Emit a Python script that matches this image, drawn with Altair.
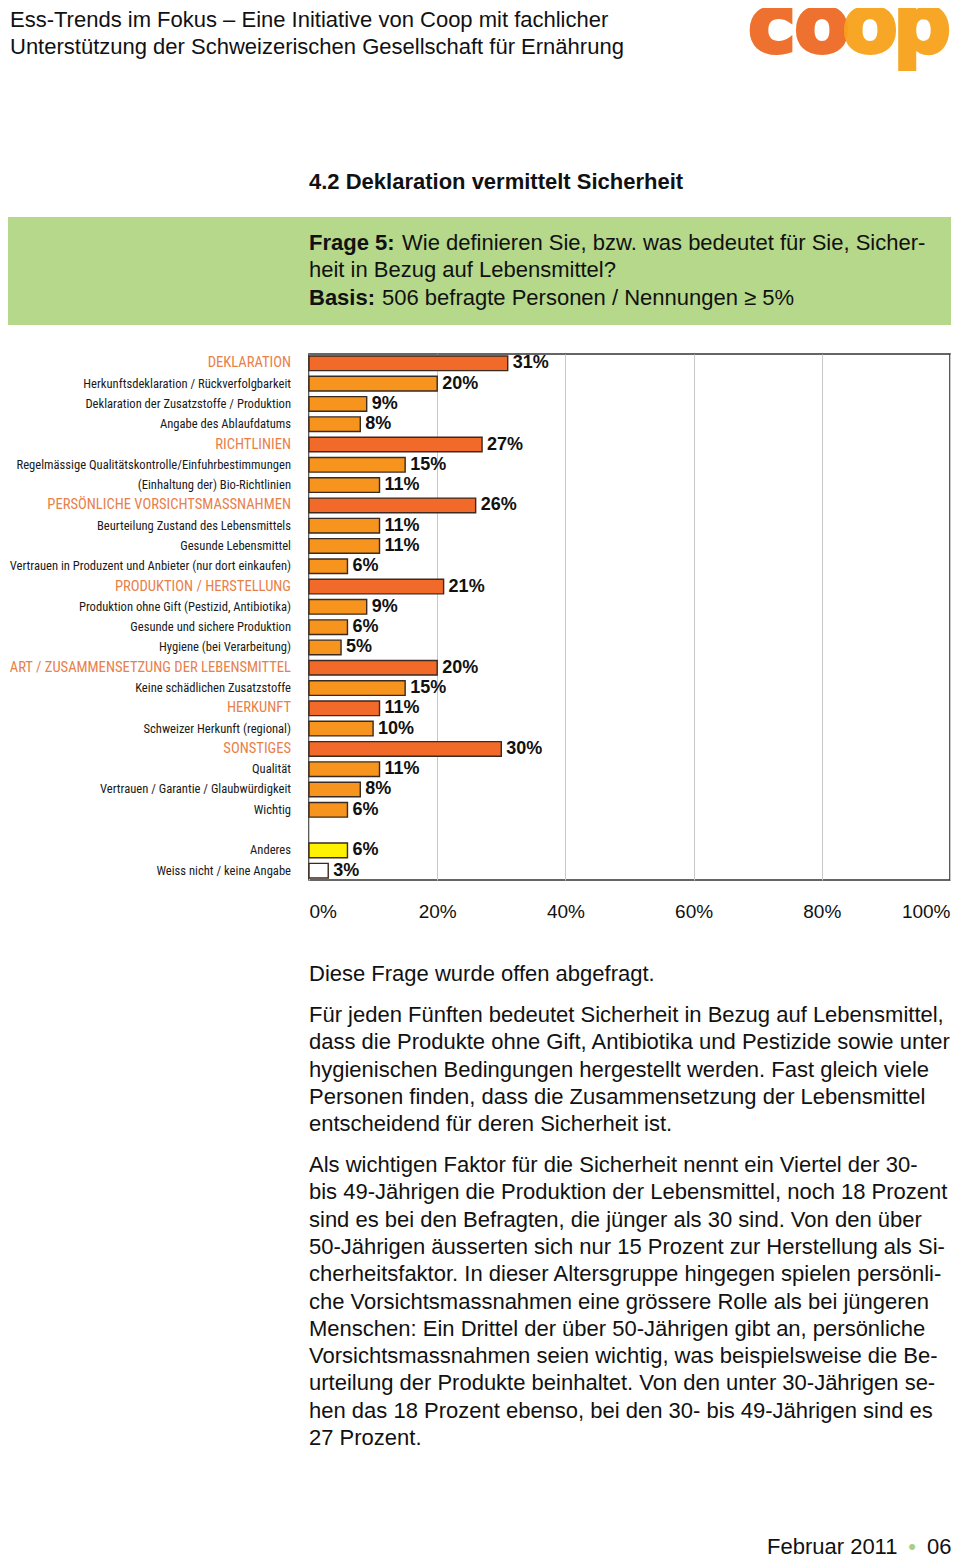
import altair as alt
import pandas as pd

labels = [
    "DEKLARATION",
    "Herkunftsdeklaration / Rückverfolgbarkeit",
    "Deklaration der Zusatzstoffe / Produktion",
    "Angabe des Ablaufdatums",
    "RICHTLINIEN",
    "Regelmässige Qualitätskontrolle/Einfuhrbestimmungen",
    "(Einhaltung der) Bio-Richtlinien",
    "PERSÖNLICHE VORSICHTSMASSNAHMEN",
    "Beurteilung Zustand des Lebensmittels",
    "Gesunde Lebensmittel",
    "Vertrauen in Produzent und Anbieter (nur dort einkaufen)",
    "PRODUKTION / HERSTELLUNG",
    "Produktion ohne Gift (Pestizid, Antibiotika)",
    "Gesunde und sichere Produktion",
    "Hygiene (bei Verarbeitung)",
    "ART / ZUSAMMENSETZUNG DER LEBENSMITTEL",
    "Keine schädlichen Zusatzstoffe",
    "HERKUNFT",
    "Schweizer Herkunft (regional)",
    "SONSTIGES",
    "Qualität",
    "Vertrauen / Garantie / Glaubwürdigkeit",
    "Wichtig",
    "Anderes",
    "Weiss nicht / keine Angabe",
]
values = [31, 20, 9, 8, 27, 15, 11, 26, 11, 11, 6, 21, 9, 6, 5, 20, 15, 11, 10, 30, 11, 8, 6, 6, 3]
kinds = ["cat", "item", "item", "item", "cat", "item", "item", "cat", "item", "item", "item",
         "cat", "item", "item", "item", "cat", "item", "cat", "item", "cat", "item", "item", "item",
         "other", "none"]
# row order (blank gap before "Anderes")
row_order = labels[:23] + [" "] + labels[23:]
x_ticks = [0, 20, 40, 60, 80, 100]

header_lines = [
    "Ess-Trends im Fokus – Eine Initiative von Coop mit fachlicher",
    "Unterstützung der Schweizerischen Gesellschaft für Ernährung",
]
section_title = "4.2 Deklaration vermittelt Sicherheit"
intro_line = "Diese Frage wurde offen abgefragt."
para2 = [
    "Für jeden Fünften bedeutet Sicherheit in Bezug auf Lebensmittel,",
    "dass die Produkte ohne Gift, Antibiotika und Pestizide sowie unter",
    "hygienischen Bedingungen hergestellt werden. Fast gleich viele",
    "Personen finden, dass die Zusammensetzung der Lebensmittel",
    "entscheidend für deren Sicherheit ist.",
]
para3 = [
    "Als wichtigen Faktor für die Sicherheit nennt ein Viertel der 30-",
    "bis 49-Jährigen die Produktion der Lebensmittel, noch 18 Prozent",
    "sind es bei den Befragten, die jünger als 30 sind. Von den über",
    "50-Jährigen äusserten sich nur 15 Prozent zur Herstellung als Si-",
    "cherheitsfaktor. In dieser Altersgruppe hingegen spielen persönli-",
    "che Vorsichtsmassnahmen eine grössere Rolle als bei jüngeren",
    "Menschen: Ein Drittel der über 50-Jährigen gibt an, persönliche",
    "Vorsichtsmassnahmen seien wichtig, was beispielsweise die Be-",
    "urteilung der Produkte beinhaltet. Von den unter 30-Jährigen se-",
    "hen das 18 Prozent ebenso, bei den 30- bis 49-Jährigen sind es",
    "27 Prozent.",
]

df = pd.DataFrame({"label": labels, "value": values, "kind": kinds})

FONT = "Liberation Sans, Arial, Helvetica, sans-serif"
NARROW = "Roboto Condensed, DejaVu Sans Condensed, sans-serif"
one = alt.Data(values=[{}])
base = alt.Chart(df)

bars = base.mark_bar(stroke="#3a2a1f", strokeWidth=1.4).encode(
    x=alt.X("value:Q", scale=alt.Scale(domain=[0, 100]),
            axis=alt.Axis(values=x_ticks, labelExpr="datum.value + '%'", title=None,
                          ticks=False, tickSize=0, domain=False, grid=True,
                          gridColor="#c8c8c8", gridWidth=1, labelFlush=True,
                          labelFont=FONT, labelFontSize=19, labelColor="#111",
                          labelPadding=22)),
    y=alt.Y("label:N", scale=alt.Scale(domain=row_order, paddingInner=0.28, paddingOuter=0.1),
            axis=None, sort=None),
    color=alt.Color("kind:N", scale=alt.Scale(domain=["cat", "item", "other", "none"],
                                              range=["#F26A2A", "#F7941D", "#FFF200", "#FFFFFF"]),
                    legend=None),
)
vals = base.transform_calculate(pct="datum.value + '%'").mark_text(
    align="left", baseline="middle", dx=5, font=FONT, fontWeight="bold", fontSize=18, color="#111"
).encode(x="value:Q", y=alt.Y("label:N", sort=None), text="pct:N")
item_labels = base.transform_filter("datum.kind != 'cat'").mark_text(
    align="right", baseline="middle", font=NARROW, fontSize=12.6, color="#1a1a1a"
).encode(x=alt.value(-18), y=alt.Y("label:N", sort=None), text="label:N")
cat_labels = base.transform_filter("datum.kind == 'cat'").mark_text(
    align="right", baseline="middle", font=NARROW, fontSize=14.6, color="#E8804A"
).encode(x=alt.value(-18), y=alt.Y("label:N", sort=None), text="label:N")

OX, OY = 309, 354  # page position of the plot origin


def txt(s, px, py, size=22, weight="normal", color="#111", align="left", font=FONT):
    return alt.Chart(one).mark_text(align=align, baseline="middle", font=font, fontSize=size,
                                    fontWeight=weight, color=color).encode(
        x=alt.value(px - OX), y=alt.value(py - OY), text=alt.value(s))


layers = []
layers.append(alt.Chart(one).mark_rect(color="#B5D88A").encode(
    x=alt.value(8 - OX), x2=alt.value(951 - OX), y=alt.value(217 - OY), y2=alt.value(325 - OY)))
for i, s in enumerate(header_lines):
    layers.append(txt(s, 10, 20 + i * 27))
layers.append(txt(section_title, 309, 182, weight="bold"))
layers.append(txt("Frage 5:", 309, 243, weight="bold"))
layers.append(txt("Wie definieren Sie, bzw. was bedeutet für Sie, Sicher-", 402, 243))
layers.append(txt("heit in Bezug auf Lebensmittel?", 309, 270))
layers.append(txt("Basis:", 309, 298, weight="bold"))
layers.append(txt("506 befragte Personen / Nennungen ≥ 5%", 382, 298))
layers.append(txt(intro_line, 309, 974))
for i, s in enumerate(para2):
    layers.append(txt(s, 309, 1015 + i * 27.25))
for i, s in enumerate(para3):
    layers.append(txt(s, 309, 1165 + i * 27.3))
layers.append(txt("Februar 2011", 767, 1547))
layers.append(txt("•", 912, 1547, color="#A8CF7E", align="center"))
layers.append(txt("06", 927, 1547))
for ch, cx, col in [("c", 772, "#EE6A24"), ("o", 822, "#EE6A24"),
                    ("o", 870, "#F7A21B"), ("p", 922, "#F7A21B")]:
    layers.append(alt.Chart(one).mark_text(align="center", baseline="alphabetic",
                                           font="DejaVu Sans", fontWeight="bold", fontSize=80,
                                           color=col, stroke=col, strokeWidth=4, opacity=0.95).encode(
        x=alt.value(cx - OX), y=alt.value(52 - OY), text=alt.value(ch)))

chart = alt.layer(*layers, bars, vals, item_labels, cat_labels).properties(
    width=641, height=526,
    padding={"left": 301, "top": 346, "right": 2, "bottom": 678},
    autosize=alt.AutoSizeParams(type="none"),
).configure(background="white").configure_view(stroke="#333333", strokeWidth=1.6)

chart.save("out.html", embed_options={"renderer": "svg", "actions": False})
